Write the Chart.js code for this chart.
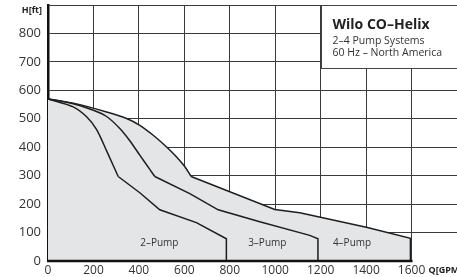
<!DOCTYPE html>
<html>
<head>
<meta charset="utf-8">
<script src="https://cdn.jsdelivr.net/npm/chart.js@4"></script>
<style>
    body { margin: 0; background: #fff; }
    #wrap { width: 457px; height: 277px; position: relative; }
</style>
</head>
<body>
<div id="wrap"><canvas id="myChart"></canvas></div>
<script>
(() => {
    'use strict'

    // Flow Q [GPM] / head H [ft]
    const pump2CurveQ = [0, 111, 170, 214, 262, 309]
    const pump2CurveH = [570, 542, 507, 462, 380, 297]
    const pump2TailQ = [309, 404, 492, 653, 785, 785]
    const pump2TailH = [297, 240, 180, 135, 78, 0]

    const pump3CurveQ = [0, 111, 200, 258, 316, 360, 404, 448, 470]
    const pump3CurveH = [570, 553, 530, 508, 466, 423, 372, 322, 297]
    const pump3TailQ = [470, 624, 749, 932, 1152, 1188, 1188]
    const pump3TailH = [297, 237, 180, 138, 90, 78, 0]

    const pump4CurveQ = [0, 111, 258, 346, 404, 463, 522, 566, 600, 630]
    const pump4CurveH = [570, 555, 524, 501, 477, 442, 401, 366, 334, 297]
    const pump4TailQ = [630, 998, 1108, 1401, 1595, 1595]
    const pump4TailH = [297, 181, 170, 119, 80, 0]

    const pumpLabels = ['2–Pump', '3–Pump', '4–Pump']
    const xTicks = [0, 200, 400, 600, 800, 1000, 1200, 1400, 1600]
    const yTicks = [0, 100, 200, 300, 400, 500, 600, 700, 800]

    const pts = (qs, hs) => qs.map((q, i) => ({ x: q, y: hs[i] }))
    const FILL = 'rgb(228,229,231)'
    const LINE = '#1e1e1e'

    const curve = (qs, hs, filled) => ({
        data: pts(qs, hs),
        showLine: true,
        borderColor: LINE,
        borderWidth: 1.5,
        pointRadius: 0,
        tension: 0.3,
        fill: filled ? 'origin' : false,
        backgroundColor: FILL
    })
    const tail = (qs, hs, filled) => ({
        data: pts(qs, hs),
        showLine: true,
        borderColor: LINE,
        borderWidth: 1.5,
        pointRadius: 0,
        tension: 0,
        fill: filled ? 'origin' : false,
        backgroundColor: FILL
    })

    const font = '"Open Sans", "Noto Sans", sans-serif'

    const overlay = {
        id: 'overlay',
        beforeDatasetsDraw(chart) {
            // hide the hairline where the two envelope fills meet
            const { ctx, scales: { x, y } } = chart
            const sx = x.getPixelForValue(pump4TailQ[0])
            const top = y.getPixelForValue(pump4TailH[0]) + 2
            ctx.save()
            ctx.fillStyle = FILL
            ctx.fillRect(sx - 1, top, 2, y.getPixelForValue(0) - top)
            ctx.restore()
        },
        afterDatasetsDraw(chart) {
            const { ctx, chartArea, scales: { x, y } } = chart
            ctx.save()
            // bottom axis stops at last labelled tick
            ctx.strokeStyle = '#111'
            ctx.lineWidth = 2.5
            ctx.beginPath()
            ctx.moveTo(x.getPixelForValue(0) - 1, y.getPixelForValue(0))
            ctx.lineTo(x.getPixelForValue(xTicks[xTicks.length - 1]) + 1, y.getPixelForValue(0))
            ctx.stroke()

            // pump labels sit under each section
            const labelQ = [490, 965, 1338]
            ctx.fillStyle = '#333'
            ctx.font = '10px ' + font
            ctx.textAlign = 'center'
            ctx.textBaseline = 'alphabetic'
            pumpLabels.forEach((t, i) => {
                ctx.fillText(t, x.getPixelForValue(labelQ[i]), y.getPixelForValue(68) + 4)
            })

            // axis titles
            ctx.font = 'bold 9px ' + font
            ctx.fillStyle = '#222'
            ctx.textAlign = 'right'
            ctx.fillText('H[ft]', chartArea.left - 6, chartArea.top + 8)
            ctx.textAlign = 'left'
            ctx.fillText('Q[GPM]', x.getPixelForValue(1600) + 17, chartArea.bottom + 12)

            // title box
            const bx = Math.round(x.getPixelForValue(1200)) + 0.5
            const by = Math.round(chartArea.top) + 0.5
            ctx.fillStyle = '#fff'
            ctx.fillRect(bx, by, chart.width - bx + 2, 63)
            ctx.strokeStyle = '#444'
            ctx.lineWidth = 1
            ctx.strokeRect(bx, by, chart.width - bx + 2, 63)
            ctx.fillStyle = '#222'
            ctx.font = 'bold 14px ' + font
            ctx.fillText('Wilo CO–Helix', bx + 11, by + 23)
            ctx.fillStyle = '#333'
            ctx.font = '10.5px ' + font
            ctx.fillText('2–4 Pump Systems', bx + 11, by + 38)
            ctx.fillText('60 Hz – North America', bx + 11, by + 50)
            ctx.restore()
        }
    }

    const ctx = document.getElementById('myChart')
    // eslint-disable-next-line no-unused-vars
    const myChart = new Chart(ctx, {
        type: 'scatter',
        data: {
            datasets: [
                curve(pump4CurveQ, pump4CurveH, true),
                tail(pump4TailQ, pump4TailH, true),
                curve(pump3CurveQ, pump3CurveH, false),
                tail(pump3TailQ, pump3TailH, false),
                curve(pump2CurveQ, pump2CurveH, false),
                tail(pump2TailQ, pump2TailH, false)
            ]
        },
        options: {
            responsive: true,
            maintainAspectRatio: false,
            animation: false,
            layout: { padding: { top: 5, right: 0, left: 0, bottom: 0 } },
            scales: {
                x: {
                    type: 'linear',
                    min: 0,
                    max: 1800,
                    afterFit: (s) => {
                        s.height = 16
                        s.paddingLeft = 0
                        s.paddingRight = 0
                    },
                    afterBuildTicks: (s) => { s.ticks = xTicks.concat([1800]).map(v => ({ value: v })) },
                    ticks: {
                        autoSkip: false,
                        maxRotation: 0,
                        padding: 2,
                        color: '#333',
                        font: { family: font, size: 12 },
                        callback: (v) => xTicks.includes(v) ? String(v) : ''
                    },
                    grid: {
                        drawTicks: false,
                        color: (c) => (c.tick && (c.tick.value === 0 || c.tick.value === 1800)) ? 'transparent' : '#3a3a3a',
                        lineWidth: 1
                    },
                    border: { display: false }
                },
                y: {
                    min: 0,
                    max: 900,
                    afterFit: (s) => {
                        s.width = 48
                        s.paddingTop = 0
                        s.paddingBottom = 0
                    },
                    afterBuildTicks: (s) => { s.ticks = yTicks.concat([900]).map(v => ({ value: v })) },
                    ticks: {
                        padding: 7,
                        color: '#333',
                        font: { family: font, size: 13 },
                        callback: (v) => yTicks.includes(v) ? String(v) : ''
                    },
                    grid: {
                        drawTicks: false,
                        color: (c) => (c.tick && c.tick.value === 0) ? 'transparent' : '#3a3a3a',
                        lineWidth: 1
                    },
                    border: { display: true, color: '#111', width: 2.5 }
                }
            },
            plugins: {
                legend: { display: false },
                tooltip: { enabled: false },
                filler: { drawTime: 'beforeDatasetsDraw' }
            }
        },
        plugins: [overlay]
    })
})()
</script>
</body>
</html>
